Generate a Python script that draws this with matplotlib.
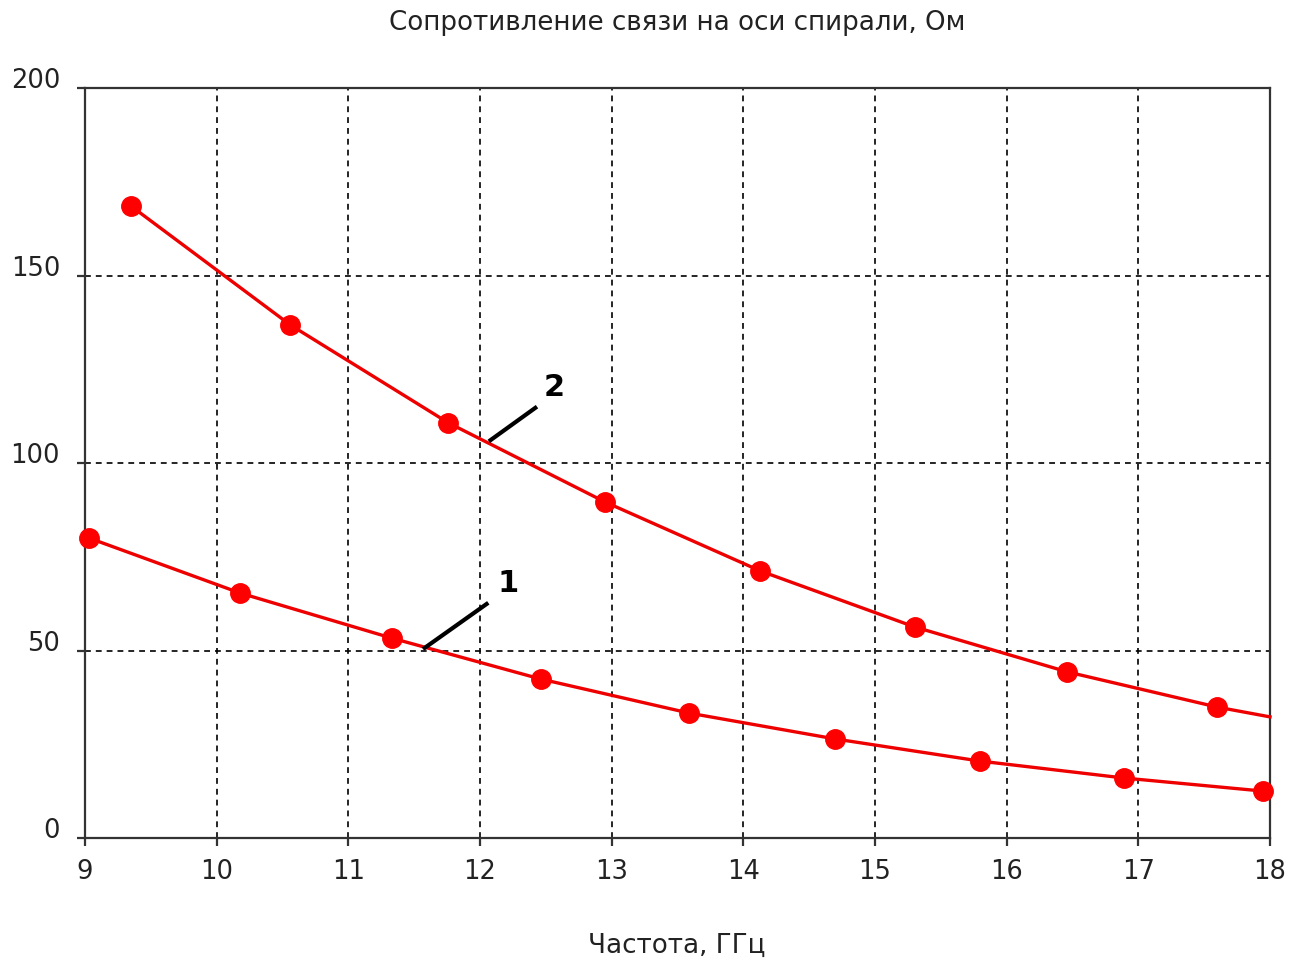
import numpy as np
import matplotlib.pyplot as plt
import matplotlib.transforms as mtransforms

# curve 1 (lower)
freq1 = [9.03, 10.18, 11.33, 12.46, 13.59, 14.70, 15.80, 16.89, 17.95]
res1 = [80.0, 65.3, 53.3, 42.4, 33.3, 26.4, 20.5, 16.0, 12.5]

# curve 2 (upper); last point is the line end without a marker
freq2 = [9.35, 10.56, 11.76, 12.95, 14.13, 15.30, 16.46, 17.60, 18.0]
res2 = [168.5, 136.8, 110.7, 89.6, 71.2, 56.3, 44.3, 34.9, 32.3]

xticks = np.arange(9, 19, 1)
yticks = [0, 50, 100, 150, 200]

title = "Сопротивление связи на оси спирали, Ом"
xlabel = "Частота, ГГц"

plt.rcParams['font.family'] = ['DejaVu Sans']

fig = plt.figure(figsize=(12.9, 9.64), dpi=100)
ax = fig.add_axes([85/1290, 1-838/964, (1270-85)/1290, (838-88)/964])

red = '#ee0000'
ax.plot(freq1, res1, color=red, lw=2.4, marker='o', ms=14,
        mfc='#ff0000', mec='#ff0000', zorder=3, clip_on=False)
ax.plot(freq2, res2, color=red, lw=2.4, marker='o', ms=14,
        mfc='#ff0000', mec='#ff0000', markevery=slice(0, 8), zorder=3, clip_on=False)

# leader lines and curve numbers
ax.plot([12.08, 12.42], [106.1, 114.7], color='black', lw=3, zorder=4)
ax.text(12.48, 120.0, '2', fontsize=22, fontweight='bold', ha='left', va='center')
ax.plot([11.58, 12.05], [50.7, 62.4], color='black', lw=3, zorder=4)
ax.text(12.13, 68.0, '1', fontsize=22, fontweight='bold', ha='left', va='center')

ax.set_xlim(9, 18)
ax.set_ylim(0, 200)
ax.set_xticks(xticks)
ax.set_yticks(yticks)
ax.grid(True, color='black', linestyle=(0, (3.5, 3)), lw=1.2)

for s in ax.spines.values():
    s.set_color('#333333')
    s.set_linewidth(1.6)

ax.tick_params(direction='out', length=6, width=1.6, color='#333333',
               labelsize=18.5, labelcolor='#222222')
ax.tick_params(axis='y', pad=12)
ax.tick_params(axis='x', pad=9)

# y labels sit a bit above their ticks
off = mtransforms.ScaledTranslation(0, 7/72, fig.dpi_scale_trans)
for lab in ax.get_yticklabels():
    lab.set_transform(lab.get_transform() + off)

fig.text(677/1290, 1-23/964, title, fontsize=18.8, ha='center', va='center', color='#222222')
fig.text(677/1290, 1-946/964, xlabel, fontsize=18.8, ha='center', va='center', color='#222222')

fig.savefig('out.png', dpi=100, facecolor='white')
